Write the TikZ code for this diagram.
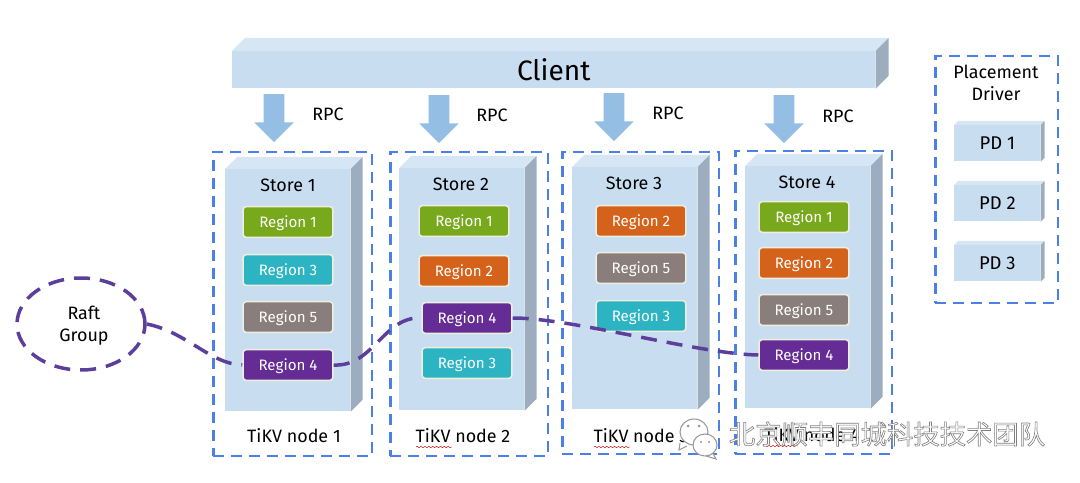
\documentclass[tikz,border=0pt]{standalone}
\usepackage{fontspec}
\usepackage{tikz}
\usetikzlibrary{shapes.geometric,shapes.arrows,decorations.pathmorphing}
\setmainfont{Fira Sans}
\newfontfamily\cjkfont{Noto Sans CJK SC}

\definecolor{frontblue}{HTML}{C8DDF0}
\definecolor{topblue}{HTML}{D6E6F4}
\definecolor{sidegrey}{HTML}{9BADBE}
\definecolor{arrowblue}{HTML}{94BEE4}
\definecolor{dashblue}{HTML}{4A80E8}
\definecolor{raftpurple}{HTML}{5B3F9B}
\definecolor{rgreen}{HTML}{78A81C}
\definecolor{rteal}{HTML}{2DB4C2}
\definecolor{rgrey}{HTML}{8A7E7C}
\definecolor{rpurple}{HTML}{642C94}
\definecolor{rorange}{HTML}{D5621A}
\definecolor{rborder}{HTML}{F0EEDF}

\tikzset{
	front/.style={fill=frontblue,anchor=north west,inner sep=0pt},
	storeblock/.style={front,minimum width=2.5cm,minimum height=4.84cm},
	pdblock/.style={front,minimum width=1.72cm,minimum height=0.72cm,font=\fontsize{10.5}{12}\selectfont},
	hostbox/.style={draw=dashblue,line width=0.05cm,dash pattern=on 0.22cm off 0.14cm,anchor=north west,inner sep=0pt},
	region/.style={draw=rborder,line width=0.03cm,rounded corners=0.07cm,minimum width=1.8cm,minimum height=0.62cm,inner sep=0pt,text depth=0pt,text=white,font=\fontsize{8.6}{10}\selectfont},
	rpcarrow/.style={fill=arrowblue,shape=single arrow,rotate=-90,inner xsep=0pt,inner ysep=0.2cm,minimum height=0.96cm,minimum width=0.78cm,single arrow head extend=0.19cm,single arrow tip angle=90,single arrow head indent=0pt},
	txt/.style={font=\fontsize{10.2}{12.5}\selectfont,inner sep=0pt,align=center},
	raftline/.style={draw=raftpurple,line width=0.07cm,dash pattern=on 0.32cm off 0.2cm},
	squiggle/.style={draw=red!80!black,line width=0.25pt,decorate,decoration={snake,amplitude=0.4pt,segment length=2.2pt}},
	wechat/.style={draw=black!40,fill=white,line width=0.6pt}
}

% top and side faces of a block: node, depth in x, depth in y
\newcommand{\blockfaces}[3]{
	\fill[topblue] (#1.north west) -- ++(#2,-#3) -- ([shift={(#2,-#3)}]#1.north east) -- (#1.north east) -- cycle;
	\fill[sidegrey] (#1.north east) -- ++(#2,-#3) -- ([shift={(#2,-#3)}]#1.south east) -- (#1.south east) -- cycle;
}

\begin{document}
\begin{tikzpicture}[x=0.02cm,y=-0.02cm]
\useasboundingbox (0,0) rectangle (1080,483);

% client
\node[front,minimum width=12.86cm,minimum height=0.74cm,font=\fontsize{16}{18}\selectfont] (client) at (232,51) {Client};
\blockfaces{client}{13}{13}

% rpc arrows
\node[rpcarrow] (arrow1) at (274,113) {};
\node[rpcarrow] (arrow2) at (439,114) {};
\node[rpcarrow] (arrow3) at (614,112) {};
\node[rpcarrow] (arrow4) at (784,114) {};
\node[txt] (rpc1) at (328,114) {RPC};
\node[txt] (rpc2) at (492,115) {RPC};
\node[txt] (rpc3) at (668,113) {RPC};
\node[txt] (rpc4) at (838,116) {RPC};

% tikv nodes
\node[hostbox,minimum width=3.18cm,minimum height=6.08cm] (host1) at (212,151) {};
\node[hostbox,minimum width=3.16cm,minimum height=6.08cm] (host2) at (389,151) {};
\node[hostbox,minimum width=3.14cm,minimum height=6.04cm] (host3) at (561,151) {};
\node[hostbox,minimum width=3.14cm,minimum height=6.06cm] (host4) at (734,150) {};

% stores
\node[storeblock] (store1) at (225,169) {};
\node[storeblock] (store2) at (399,168) {};
\node[storeblock] (store3) at (572,167) {};
\node[storeblock] (store4) at (745,166) {};
\blockfaces{store1}{12}{12}
\blockfaces{store2}{12}{12}
\blockfaces{store3}{12}{12}
\blockfaces{store4}{12}{12}
\node[txt] (name1) at (288,185) {Store 1};
\node[txt] (name2) at (461,184) {Store 2};
\node[txt] (name3) at (634,183) {Store 3};
\node[txt] (name4) at (807,182) {Store 4};

% regions
\node[region,fill=rgreen] (s1r1) at (288,222) {Region 1};
\node[region,fill=rteal] (s1r3) at (288,270) {Region 3};
\node[region,fill=rgrey] (s1r5) at (288,317) {Region 5};
\node[region,fill=rpurple] (s1r4) at (288,365) {Region 4};

\node[region,fill=rgreen] (s2r1) at (464,221) {Region 1};
\node[region,fill=rorange] (s2r2) at (464,271) {Region 2};
\node[region,fill=rpurple] (s2r4) at (467,318) {Region 4};
\node[region,fill=rteal] (s2r3) at (467,363) {Region 3};

\node[region,fill=rorange] (s3r2) at (641,221) {Region 2};
\node[region,fill=rgrey] (s3r5) at (641,268) {Region 5};
\node[region,fill=rteal] (s3r3) at (641,316) {Region 3};

\node[region,fill=rgreen] (s4r1) at (804,217) {Region 1};
\node[region,fill=rorange] (s4r2) at (804,263) {Region 2};
\node[region,fill=rgrey] (s4r5) at (804,310) {Region 5};
\node[region,fill=rpurple] (s4r4) at (804,355) {Region 4};

% node labels
\node[txt] (tikv1) at (294,436) {TiKV node 1};
\node[txt] (tikv2) at (463,436) {TiKV node 2};
\node[txt] (tikv3) at (641,436) {TiKV node 3};
\node[txt] (tikv4) at (812,435) {TiKV node 4};
\draw[squiggle] (416,447) -- (452,447);
\draw[squiggle] (594,447) -- (630,447);
\draw[squiggle] (764,446) -- (798,446);

% raft group
\node[ellipse,draw=raftpurple,line width=0.07cm,dash pattern=on 0.32cm off 0.2cm,minimum width=2.56cm,minimum height=1.84cm,inner sep=0pt] (raft) at (81,324) {};
\node[txt] (raftname) at (84,326) {Raft\\Group};
\draw[raftline] (raft.east) .. controls +(40,8) and +(-32,-1) .. (s1r4.west);
\draw[raftline] (s1r4.east) .. controls +(40,2) and +(-38,-2) .. (s2r4.west);
\draw[raftline] (s2r4.east) .. controls +(60,0) and +(-60,-1) .. (s4r4.west);

% placement driver
\node[hostbox,minimum width=2.46cm,minimum height=4.94cm] (pdbox) at (934,55) {};
\node[txt] (pdname) at (996,83) {Placement\\Driver};
\node[pdblock] (pd1) at (954,125) {PD 1};
\node[pdblock] (pd2) at (954,185) {PD 2};
\node[pdblock] (pd3) at (954,245) {PD 3};
\blockfaces{pd1}{4}{4}
\blockfaces{pd2}{4}{4}
\blockfaces{pd3}{4}{4}

% watermark
\draw[wechat] (680,443) -- (679,450) -- (687,446);
\draw[wechat] (694,432) ellipse (14 and 13);
\draw[wechat] (712,452) -- (716,459) -- (706,456);
\draw[wechat] (705,445) ellipse (12 and 11);
\fill[black!40] (688,426) circle (1.5) (699,426) circle (1.5) (701,442) circle (1.2) (709,442) circle (1.2);
\node[inner sep=0pt,text=white,font=\cjkfont\fontsize{15}{16}\selectfont] (mark) at (887,434) {\special{pdf:code q 2 Tr 0.35 w 0.5 0.5 0.5 RG}北京顺丰同城科技技术团队\special{pdf:code Q}};

\end{tikzpicture}
\end{document}
